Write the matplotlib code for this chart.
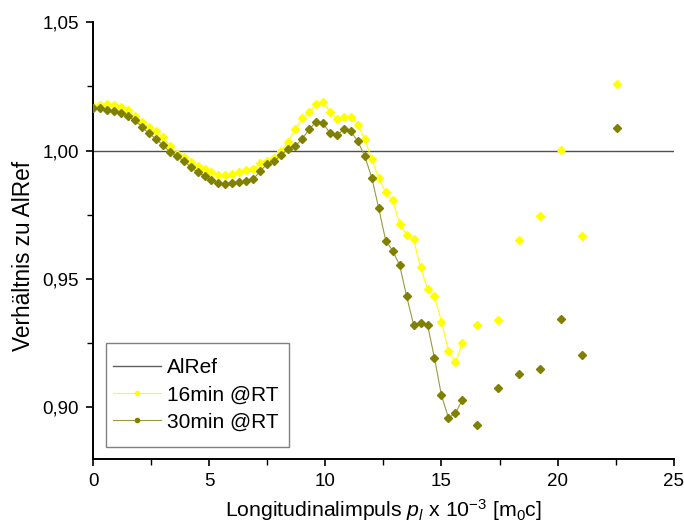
import numpy as np
import matplotlib
matplotlib.use("Agg")
import matplotlib.pyplot as plt
from matplotlib.lines import Line2D
from matplotlib.patches import Rectangle
from matplotlib.ticker import MultipleLocator, FuncFormatter

plt.rcParams['font.family'] = ['Liberation Sans', 'DejaVu Sans']
plt.rcParams['mathtext.fontset'] = 'custom'
plt.rcParams['mathtext.rm'] = 'Liberation Sans'
plt.rcParams['mathtext.it'] = 'Liberation Sans:italic'

# dense region (connected by lines)
x_dense = [0.0, 0.3, 0.6, 0.9, 1.2, 1.5, 1.8, 2.1, 2.4, 2.7,
           3.0, 3.3, 3.6, 3.9, 4.2, 4.5, 4.8, 5.1, 5.4, 5.7,
           6.0, 6.3, 6.6, 6.9, 7.2, 7.5, 7.8, 8.1, 8.4, 8.7,
           9.0, 9.3, 9.6, 9.9, 10.2, 10.5, 10.8, 11.1, 11.4, 11.7,
           12.0, 12.3, 12.6, 12.9, 13.2, 13.5, 13.8, 14.1, 14.4, 14.7,
           15.0, 15.3, 15.6, 15.9]
y16_dense = [1.0173, 1.0177, 1.0181, 1.0177, 1.0168, 1.0158, 1.0136, 1.0113, 1.0091, 1.0075,
             1.0053, 1.0019, 0.9988, 0.9974, 0.9956, 0.9942, 0.9930, 0.9915, 0.9905, 0.9904,
             0.9909, 0.9915, 0.9923, 0.9930, 0.9951, 0.9961, 0.9970, 0.9997, 1.0035, 1.0083,
             1.0125, 1.0149, 1.0181, 1.0189, 1.0151, 1.0124, 1.0132, 1.0132, 1.0100, 1.0045,
             0.9966, 0.9892, 0.9837, 0.9807, 0.9716, 0.9672, 0.9654, 0.9545, 0.9461, 0.9433,
             0.9334, 0.9220, 0.9176, 0.9250]
y30_dense = [1.0166, 1.0164, 1.0160, 1.0154, 1.0148, 1.0133, 1.0118, 1.0093, 1.0067, 1.0047,
             1.0022, 0.9996, 0.9978, 0.9960, 0.9936, 0.9916, 0.9901, 0.9885, 0.9874, 0.9870,
             0.9874, 0.9877, 0.9880, 0.9888, 0.9921, 0.9948, 0.9958, 0.9984, 1.0006, 1.0018,
             1.0044, 1.0083, 1.0111, 1.0107, 1.0068, 1.0059, 1.0083, 1.0075, 1.0036, 0.9978,
             0.9895, 0.9775, 0.9650, 0.9610, 0.9554, 0.9433, 0.9322, 0.9328, 0.9322, 0.9192,
             0.9047, 0.8960, 0.8977, 0.9030]

# isolated points (no line)
x_sparse = [16.55, 17.44, 18.35, 19.25, 20.15, 21.06, 22.56]
y16_sparse = [0.9322, 0.9339, 0.9653, 0.9745, 1.0002, 0.9668, 1.0260]
y30_sparse = [0.8933, 0.9074, 0.9131, 0.9151, 0.9343, 0.9205, 1.0087]

ref_x = [0, 25]
ref_y = [1.0, 1.0]

c16 = '#FFFF00'
c30 = '#808000'
c30_line = '#9a9a40'

fig = plt.figure(figsize=(6.84, 5.28), dpi=100)
ax = fig.add_axes([0.136, 0.131, 0.849, 0.827])

ax.plot(ref_x, ref_y, color='#505050', lw=1.0, zorder=1)

ax.plot(x_dense, y16_dense, color=c16, lw=0.8, marker='D', ms=3.8,
        mec=c16, mfc=c16, zorder=2)
ax.plot(x_sparse, y16_sparse, ls='none', marker='D', ms=3.8,
        mec=c16, mfc=c16, zorder=2)
ax.plot(x_dense, y30_dense, color=c30_line, lw=0.8, zorder=3)
ax.plot(x_dense, y30_dense, ls='none', marker='D', ms=3.8,
        mec=c30, mfc=c30, zorder=3)
ax.plot(x_sparse, y30_sparse, ls='none', marker='D', ms=3.8,
        mec=c30, mfc=c30, zorder=3)

ax.set_xlim(0, 25)
ax.set_ylim(0.88, 1.05)
ax.xaxis.set_major_locator(MultipleLocator(5))
ax.xaxis.set_minor_locator(MultipleLocator(2.5))
ax.yaxis.set_major_locator(MultipleLocator(0.05))
ax.yaxis.set_minor_locator(MultipleLocator(0.025))
ax.yaxis.set_major_formatter(FuncFormatter(lambda v, p: f"{v:.2f}".replace('.', ',')))
ax.xaxis.set_major_formatter(FuncFormatter(lambda v, p: f"{v:g}"))

for s in ['top', 'right']:
    ax.spines[s].set_visible(False)
for s in ['left', 'bottom']:
    ax.spines[s].set_linewidth(1.4)

ax.tick_params(which='major', direction='out', length=5, width=1.2, labelsize=13.5, pad=5)
ax.tick_params(which='minor', direction='out', length=4, width=1.0)

ax.set_ylabel('Verhältnis zu AlRef', fontsize=16.3)
ax.yaxis.set_label_coords(-0.1, 0.465)
ax.set_xlabel(r'Longitudinalimpuls $p_l$ x 10$^{-3}$ [m$_0$c]', fontsize=15.3, labelpad=5)

# legend frame drawn separately (Origin-style box with more vertical padding)
leg_x, leg_y, leg_w, leg_h = 0.0224, 0.0275, 0.315, 0.238
ax.add_patch(Rectangle((leg_x, leg_y), leg_w, leg_h, transform=ax.transAxes,
                       facecolor='white', edgecolor='#808080', lw=1.0, zorder=4))

handles = [
    Line2D([], [], color='#606060', lw=1.0),
    Line2D([], [], color=c16, lw=0.8, marker='o', ms=3, mfc=c16, mec=c16),
    Line2D([], [], color=c30_line, lw=0.8, marker='o', ms=3, mfc=c30, mec=c30),
]
leg = ax.legend(handles, ['AlRef', '16min @RT', '30min @RT'],
                loc='center left', bbox_to_anchor=(leg_x + 0.012, leg_y + leg_h / 2),
                borderaxespad=0, borderpad=0, fontsize=15, frameon=False,
                handlelength=2.3, labelspacing=0.4, handletextpad=0.3)
leg.set_zorder(5)

fig.savefig('out.png', dpi=100)
